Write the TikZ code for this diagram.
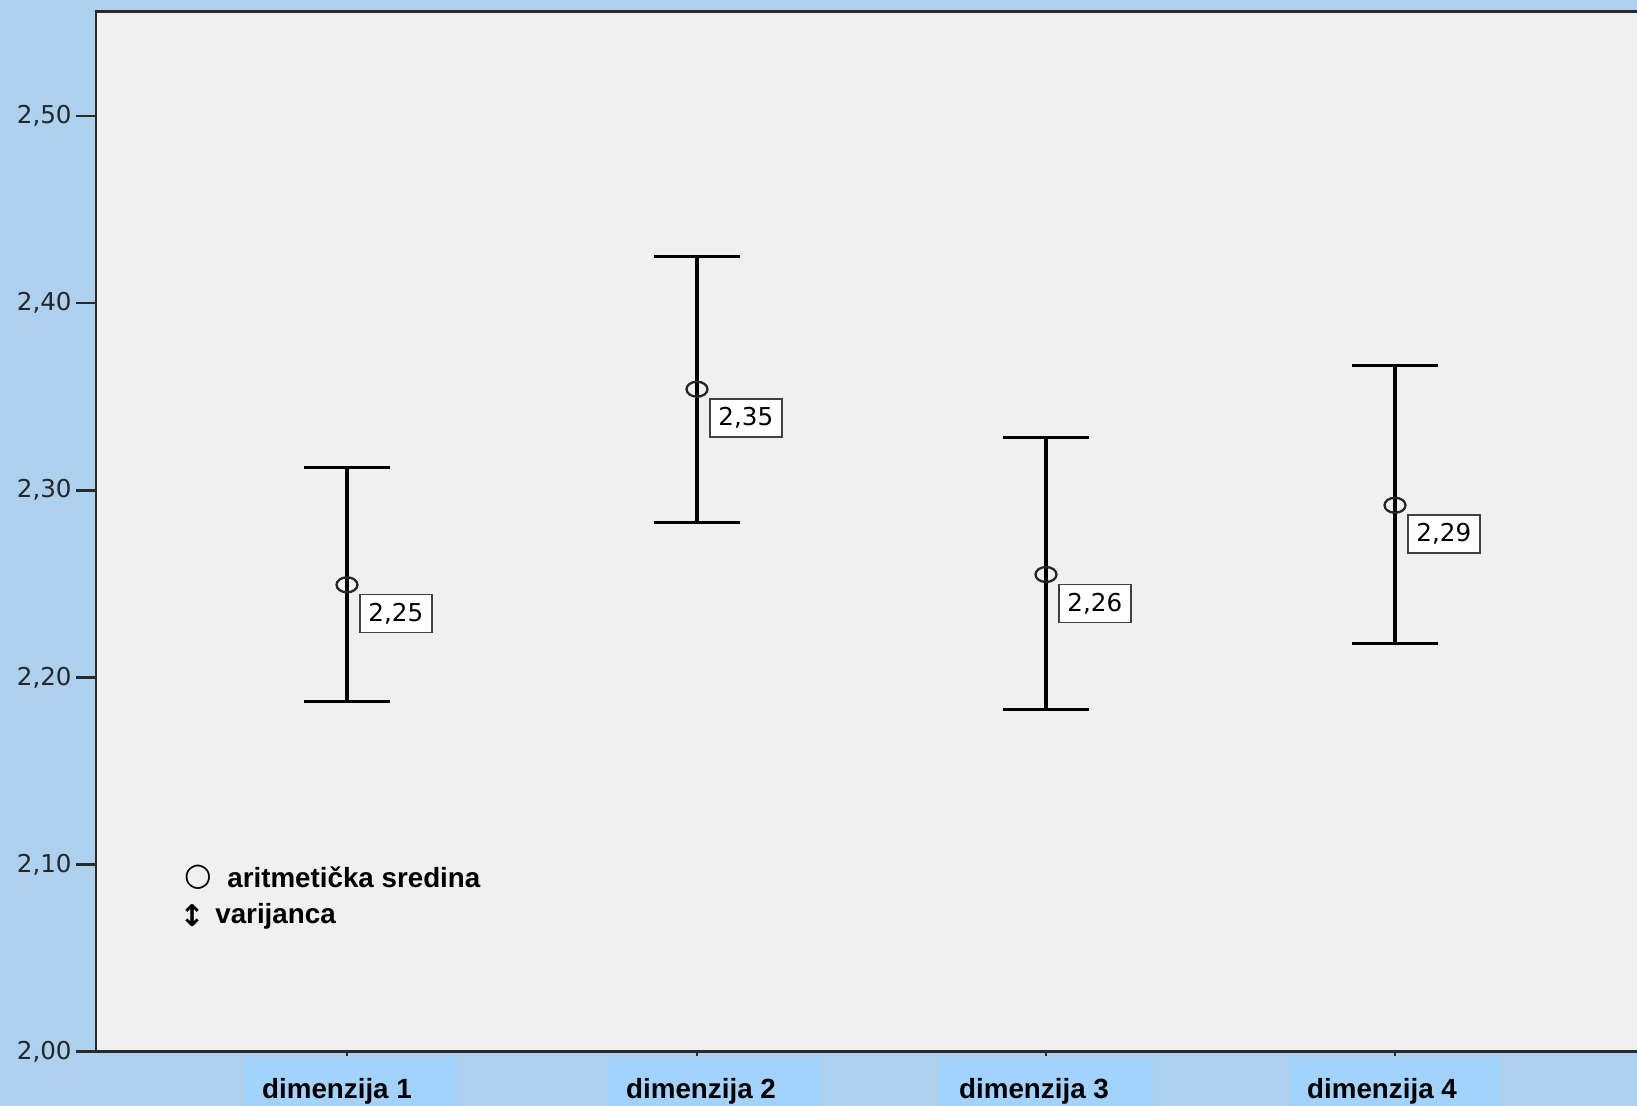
\documentclass[tikz,border=0pt]{standalone}
\usepackage{fontspec}
\setmainfont{Liberation Sans}
\newfontfamily\dejavu{DejaVu Sans}
\usetikzlibrary{positioning}
\definecolor{outerblue}{HTML}{AED1EF}
\definecolor{labelblue}{HTML}{A2D3FC}
\definecolor{plotgrey}{HTML}{F0F0F0}
\definecolor{framegrey}{HTML}{2A2A2A}

\begin{document}
\begin{tikzpicture}[x=0.02cm,y=37.44cm,shift={(0,-2)},
  ticklabel/.style={font=\dejavu\fontsize{14}{14}\selectfont,anchor=east,inner sep=0pt,text=black!85},
  ticmark/.style={framegrey,line width=1.5pt},
  catlabel/.style={font=\bfseries\fontsize{15.8}{16}\selectfont,anchor=base,inner sep=0pt},
  bar/.style={black,line width=2.3pt},
  whisker/.style={black,line width=1.8pt},
  meanmark/.style={draw=black!85,line width=1.3pt},
  valbox/.style={draw=black!75,fill=white,line width=0.9pt,anchor=north west,inner sep=0pt,
    minimum width=1.44cm,minimum height=0.76cm,font=\dejavu\fontsize{14}{14}\selectfont},
  legtext/.style={font=\bfseries\fontsize{15.8}{16}\selectfont,anchor=west,inner sep=0pt},
  legsym/.style={font=\dejavu\bfseries\fontsize{18}{18}\selectfont,inner sep=0pt}]
\tikzstyle{every node}+=[text=black]
% background and plot area
\fill [outerblue] (0,1.971154) rectangle (1637,2.561966);
\useasboundingbox (0,1.971154) rectangle (1637,2.561966);
\fill [plotgrey] (96,2) rectangle (1637,2.55556);
\fill [labelblue] (245,1.9711) rectangle (457,1.99733);
\fill [labelblue] (608,1.9711) rectangle (820,1.99733);
\fill [labelblue] (939,1.9711) rectangle (1153,1.99733);
\fill [labelblue] (1290,1.9711) rectangle (1500,1.99733);
\draw [framegrey,line width=1.7pt] (1637,2.55556) -- (96,2.55556) -- (96,2) -- (1637,2);
% y axis
\draw [ticmark] (76,2.5) -- (96,2.5);
\node [ticklabel] (t250) at (72,2.5) {2,50};
\draw [ticmark] (76,2.4) -- (96,2.4);
\node [ticklabel] (t240) at (72,2.4) {2,40};
\draw [ticmark] (76,2.3) -- (96,2.3);
\node [ticklabel] (t230) at (72,2.3) {2,30};
\draw [ticmark] (76,2.2) -- (96,2.2);
\node [ticklabel] (t220) at (72,2.2) {2,20};
\draw [ticmark] (76,2.1) -- (96,2.1);
\node [ticklabel] (t210) at (72,2.1) {2,10};
\draw [ticmark] (76,2.0) -- (96,2.0);
\node [ticklabel] (t200) at (72,2.0) {2,00};
% x axis
\draw [ticmark] (347,2) -- (347,1.9979);
\node [catlabel] (dim1) at (337,1.9749) {dimenzija 1};
\draw [ticmark] (697,2) -- (697,1.9979);
\node [catlabel] (dim2) at (701,1.9749) {dimenzija 2};
\draw [ticmark] (1046,2) -- (1046,1.9979);
\node [catlabel] (dim3) at (1034,1.9749) {dimenzija 3};
\draw [ticmark] (1395,2) -- (1395,1.9979);
\node [catlabel] (dim4) at (1382,1.9749) {dimenzija 4};
% dimenzija 1
\coordinate (d1low) at (347,2.187);
\coordinate (d1top) at (347,2.312);
\coordinate (d1mean) at (347,2.2495);
\draw [bar] (d1low) -- (d1top);
\draw [whisker] ([xshift=-0.86cm]d1top) -- ([xshift=0.86cm]d1top);
\draw [whisker] ([xshift=-0.86cm]d1low) -- ([xshift=0.86cm]d1low);
\draw [meanmark] (d1mean) ellipse [x radius=0.21cm,y radius=0.15cm];
\node [valbox] (d1val) at ([xshift=0.24cm,yshift=-0.18cm]d1mean) {2,25};
% dimenzija 2
\coordinate (d2low) at (697,2.283);
\coordinate (d2top) at (697,2.4247);
\coordinate (d2mean) at (697,2.354);
\draw [bar] (d2low) -- (d2top);
\draw [whisker] ([xshift=-0.86cm]d2top) -- ([xshift=0.86cm]d2top);
\draw [whisker] ([xshift=-0.86cm]d2low) -- ([xshift=0.86cm]d2low);
\draw [meanmark] (d2mean) ellipse [x radius=0.21cm,y radius=0.15cm];
\node [valbox] (d2val) at ([xshift=0.24cm,yshift=-0.18cm]d2mean) {2,35};
% dimenzija 3
\coordinate (d3low) at (1046,2.183);
\coordinate (d3top) at (1046,2.328);
\coordinate (d3mean) at (1046,2.255);
\draw [bar] (d3low) -- (d3top);
\draw [whisker] ([xshift=-0.86cm]d3top) -- ([xshift=0.86cm]d3top);
\draw [whisker] ([xshift=-0.86cm]d3low) -- ([xshift=0.86cm]d3low);
\draw [meanmark] (d3mean) ellipse [x radius=0.21cm,y radius=0.15cm];
\node [valbox] (d3val) at ([xshift=0.24cm,yshift=-0.18cm]d3mean) {2,26};
% dimenzija 4
\coordinate (d4low) at (1395,2.218);
\coordinate (d4top) at (1395,2.3665);
\coordinate (d4mean) at (1395,2.292);
\draw [bar] (d4low) -- (d4top);
\draw [whisker] ([xshift=-0.86cm]d4top) -- ([xshift=0.86cm]d4top);
\draw [whisker] ([xshift=-0.86cm]d4low) -- ([xshift=0.86cm]d4low);
\draw [meanmark] (d4mean) ellipse [x radius=0.21cm,y radius=0.15cm];
\node [valbox] (d4val) at ([xshift=0.24cm,yshift=-0.18cm]d4mean) {2,29};
% legend
\node [legtext] (legmean) at (227,2.0935) {aritmetička sredina};
\node [legsym,left=0.3cm of legmean] (legmeansym) {○};
\node [legtext] (legvar) at (215,2.0726) {varijanca};
\node [legsym,font=\dejavu\bfseries\fontsize{17}{17}\selectfont,left=0.2cm of legvar] (legvarsym) {↕};
\end{tikzpicture}
\end{document}
